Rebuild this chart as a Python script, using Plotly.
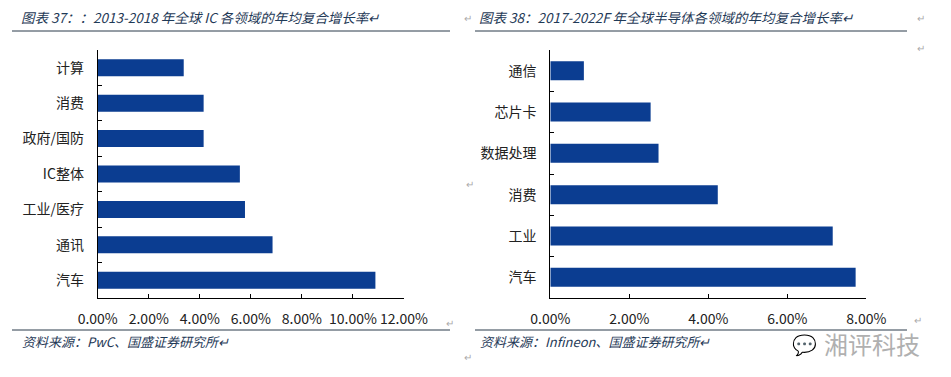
import plotly.graph_objects as go

# Left chart: 2013-2018 global IC CAGR by segment (top to bottom)
left_categories = ["计算", "消费", "政府/国防", "IC整体", "工业/医疗", "通讯", "汽车"]
left_values = [0.0337, 0.0415, 0.0415, 0.0557, 0.0577, 0.0685, 0.1088]
left_ticks = [0, 0.02, 0.04, 0.06, 0.08, 0.10, 0.12]

# Right chart: 2017-2022F global semiconductor CAGR by segment (top to bottom)
right_categories = ["通信", "芯片卡", "数据处理", "消费", "工业", "汽车"]
right_values = [0.0085, 0.0254, 0.0274, 0.0424, 0.0715, 0.0773]
right_ticks = [0, 0.02, 0.04, 0.06, 0.08]

left_title = "图表 37：：2013-2018 年全球 IC 各领域的年均复合增长率↵"
right_title = "图表 38：2017-2022F 年全球半导体各领域的年均复合增长率↵"
left_source = "资料来源：PwC、国盛证券研究所↵"
right_source = "资料来源：Infineon、国盛证券研究所↵"

W, H = 951, 377
BAR = "#0b3d91"
TXT = "#1f3a57"
FONT = "Noto Sans CJK SC"

def px(x):
    return x / W

def py(y):
    return 1 - y / H

fig = go.Figure()
fig.add_trace(go.Bar(x=left_values, y=left_categories, orientation="h",
                     marker=dict(color=BAR, line=dict(width=0)), width=0.48,
                     xaxis="x", yaxis="y", hoverinfo="x+y"))
fig.add_trace(go.Bar(x=right_values, y=right_categories, orientation="h",
                     marker=dict(color=BAR, line=dict(width=0)), width=0.46,
                     xaxis="x2", yaxis="y2", hoverinfo="x+y"))

ydom = [py(298), py(50)]
axis_common = dict(showgrid=False, zeroline=False, showline=True, linecolor="#000",
                   linewidth=1, ticks="inside", ticklen=4, tickcolor="#000",
                   automargin=False,
                   tickfont=dict(family=FONT, size=14, color="#222"))

fig.update_layout(
    width=W, height=H, margin=dict(l=0, r=0, t=0, b=0),
    paper_bgcolor="white", plot_bgcolor="white", showlegend=False,
    font=dict(family=FONT),
    xaxis=dict(domain=[px(97.7), px(404)], range=[0, 0.12], tickvals=left_ticks,
               tickformat=".2%", anchor="y", tickangle=0, ticklabelstandoff=8,
               **axis_common),
    yaxis=dict(domain=ydom, autorange="reversed", tickson="boundaries",
               anchor="x", ticklabelstandoff=10, **axis_common),
    xaxis2=dict(domain=[px(550.3), px(866.3)], range=[0, 0.08], tickvals=right_ticks,
                tickformat=".2%", anchor="y2", tickangle=0, ticklabelstandoff=8,
                **axis_common),
    yaxis2=dict(domain=ydom, autorange="reversed", tickson="boundaries",
                anchor="x2", ticklabelstandoff=10, **axis_common),
)

shapes = []
for x0, x1 in [(12, 450), (475, 907)]:
    shapes.append(dict(type="line", xref="paper", yref="paper", x0=px(x0), x1=px(x1),
                       y0=py(31), y1=py(31), line=dict(color="#2b3b4a", width=1)))
    shapes.append(dict(type="line", xref="paper", yref="paper", x0=px(x0), x1=px(x1),
                       y0=py(330), y1=py(330), line=dict(color="#2b3b4a", width=1)))
fig.update_layout(shapes=shapes)

ann = []
def text(x, y, s, size=14, color=TXT, italic=True, xanchor="left"):
    ann.append(dict(text=s, x=px(x), y=py(y), xref="paper", yref="paper",
                    xanchor=xanchor, yanchor="middle", showarrow=False,
                    font=dict(family=FONT, size=size, color=color,
                              style="italic" if italic else "normal")))

text(19, 17, left_title, size=13.5)
text(477, 17, right_title, size=13.5)
text(20, 341, left_source, size=13)
text(478, 341, right_source, size=13)
# paragraph marks and watermark
for (x, y) in [(462, 17), (915, 17), (915, 48), (464, 184), (444, 322), (912, 319), (462, 356)]:
    text(x, y, "↵", size=10, color="#aaaaaa", italic=False)
text(822, 343, "湘评科技", size=24, color="#b0b0b0", italic=False)
text(790, 343, "💬", size=20, color="#c0c0c0", italic=False)
fig.update_layout(annotations=ann)

fig.write_html("out.html", config={"displayModeBar": False},
               post_script="document.body.style.margin='0';")
